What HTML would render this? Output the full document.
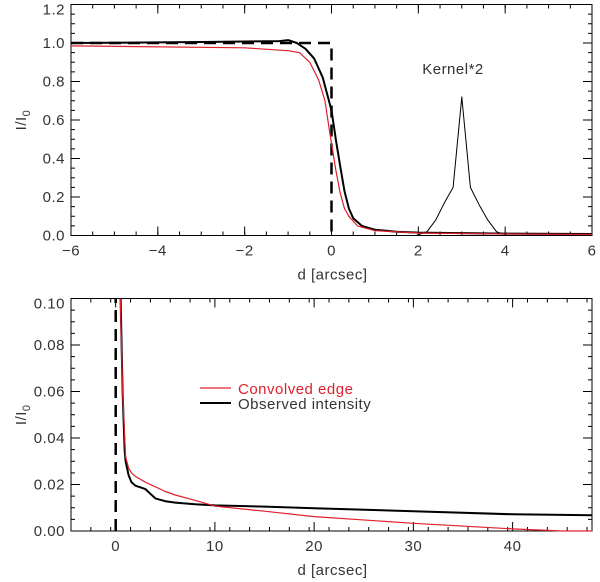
<!DOCTYPE html>
<html><head><meta charset="utf-8"><style>
body{margin:0;background:#fff}
svg{display:block;font-family:"Liberation Sans",sans-serif}
</style></head><body>
<svg id="c" width="600" height="582" viewBox="0 0 600 582"></svg>
<script>
// top panel data
const topBlackX=[-6,-3,-1.2,-1,-0.8,-0.6,-0.4,-0.2,0,0.1,0.2,0.3,0.4,0.5,0.7,1,1.5,2,4,6];
const topBlackY=[1.0,1.005,1.01,1.015,1.0,0.97,0.92,0.82,0.65,0.5,0.36,0.23,0.14,0.09,0.05,0.03,0.02,0.015,0.01,0.008];
const topRedX=[-6,-2,-1,-0.74,-0.5,-0.3,-0.15,-0.05,0,0.1,0.2,0.3,0.4,0.6,1,2,4,6];
const topRedY=[0.985,0.975,0.96,0.95,0.9,0.81,0.7,0.55,0.48,0.34,0.22,0.14,0.1,0.05,0.025,0.013,0.008,0.005];
const stepX=[-6,0,0];
const stepY=[1.0,1.0,0];
const kernelX=[1.2,1.95,2.2,2.4,2.6,2.8,3.0,3.2,3.4,3.6,3.8,4.05,6];
const kernelY=[0,0,0.02,0.08,0.17,0.25,0.72,0.25,0.16,0.08,0.02,0,0];
const topXTicks=[-6,-4,-2,0,2,4,6];
const topYTicks=[0,0.2,0.4,0.6,0.8,1.0,1.2];
// bottom panel data
const botBlackX=[0.5,0.7,0.9,1,1.3,1.6,2,3,3.5,4,5,6,8,10,15,20,30,40,48];
const botBlackY=[0.1,0.06,0.035,0.03,0.024,0.021,0.0195,0.018,0.016,0.014,0.0128,0.0122,0.0115,0.011,0.0105,0.0098,0.0085,0.0072,0.0068];
const botRedX=[0.47,0.7,1,1.3,1.6,2,3,4,5,6,8,10,15,20,30,40,45,48];
const botRedY=[0.1,0.06,0.032,0.027,0.025,0.0235,0.021,0.019,0.017,0.0155,0.0132,0.0107,0.0085,0.0062,0.0033,0.0009,0,0];
const botXTicks=[0,10,20,30,40];
const botYTicks=[0,0.02,0.04,0.06,0.08,0.10];

const NS="http://www.w3.org/2000/svg";
const svg=document.getElementById('c');
function el(t,a,p){const e=document.createElementNS(NS,t);for(const k in a)e.setAttribute(k,a[k]);(p||svg).appendChild(e);return e;}
function panel(L,R,T,B,x0,x1,y0,y1){return{L,R,T,B,sx:v=>L+(v-x0)/(x1-x0)*(R-L),sy:v=>B-(v-y0)/(y1-y0)*(B-T),x0,x1,y0,y1};}
const P1=panel(71,592,4.5,235.5,-6,6,0,1.2);
const P2=panel(71,592,298.5,531,-4.5,48,0,0.10);

function line(P,xs,ys,stroke,w,name,dash){
  const d=xs.map((x,i)=>(i?'L':'M')+P.sx(x).toFixed(1)+','+P.sy(ys[i]).toFixed(1)).join('');
  const p=el('path',{d,fill:'none',stroke,'stroke-width':w,'stroke-linejoin':'round'});
  if(dash)p.setAttribute('stroke-dasharray',dash);
  
  
}
function axes(P,xt,yt,xminor,yminor,xfmt,yfmt,pre){
  const g=el('g',{'letter-spacing':'0.5'});
  
  
  el('rect',{x:P.L,y:P.T,width:P.R-P.L,height:P.B-P.T,fill:'none',stroke:'#000','stroke-width':1},g);
  for(let v=P.x0;v<=P.x1+1e-9;v+=xminor){const x=P.sx(v);el('path',{d:`M${x},${P.B}v-4M${x},${P.T}v4`,stroke:'#000'},g);}
  for(let v=P.y0;v<=P.y1+1e-9;v+=yminor){const y=P.sy(v);el('path',{d:`M${P.L},${y}h4M${P.R},${y}h-4`,stroke:'#000'},g);}
  xt.forEach(v=>{const x=P.sx(v);el('path',{d:`M${x},${P.B}v-9M${x},${P.T}v9`,stroke:'#000'},g);
    const t=el('text',{x:x,y:P.B+20,'text-anchor':'middle','font-size':15,fill:'#333'},g);t.textContent=xfmt(v);
    });
  yt.forEach((v,i)=>{const y=P.sy(v);el('path',{d:`M${P.L},${y}h9M${P.R},${y}h-9`,stroke:'#000'},g);
    const ty=Math.max(y+5,P.T+10);
    const t=el('text',{x:P.L-6,y:ty,'text-anchor':'end','font-size':15,fill:'#333'},g);t.textContent=yfmt(v);
    });
  const xt2=el('text',{x:(P.L+P.R)/2+1,y:P.B+44,'text-anchor':'middle','font-size':15,fill:'#333'},g);
  xt2.textContent='d [arcsec]';
  
  const yc=(P.T+P.B)/2;
  const yt2=el('text',{transform:`translate(26,${yc}) rotate(-90)`,'text-anchor':'middle','font-size':15,fill:'#333'},g);
  yt2.innerHTML='I/I<tspan font-size="11" dy="4">0</tspan>';
  
}
axes(P1,topXTicks,topYTicks,0.5,0.05,v=>v<0?'\u2212'+(-v):String(v),v=>v.toFixed(1),'top');
axes(P2,botXTicks,botYTicks,2,0.005,v=>String(v),v=>v.toFixed(2),'bottom');

line(P1,kernelX,kernelY,'#000',1,'kernel-curve');
line(P1,stepX,stepY,'#000',2.5,'top-step-edge','12,7');
line(P1,topBlackX,topBlackY,'#000',2,'top-observed-intensity');
line(P1,topRedX,topRedY,'#e0202a',1.2,'top-convolved-edge');
const kt=el('text',{x:453,y:74,'text-anchor':'middle','font-size':15,fill:'#333','letter-spacing':'0.5'});
kt.textContent='Kernel*2';



line(P2,[0,0],[0,0.1],'#000',2.5,'bottom-step-edge','12,7');
line(P2,botBlackX,botBlackY,'#000',2,'bottom-observed-intensity');
line(P2,botRedX,botRedY,'#e0202a',1.2,'bottom-convolved-edge');

const lg=el('g',{'letter-spacing':'0.5'});


el('path',{d:'M200,388h31',stroke:'#e0202a','stroke-width':1.2},lg);
el('path',{d:'M200,403h31',stroke:'#000','stroke-width':2},lg);
const l1=el('text',{x:238,y:394,'font-size':15,fill:'#e0202a'},lg);l1.textContent='Convolved edge';

const l2=el('text',{x:238,y:409,'font-size':15,fill:'#333'},lg);l2.textContent='Observed intensity';

</script>
</body></html>
